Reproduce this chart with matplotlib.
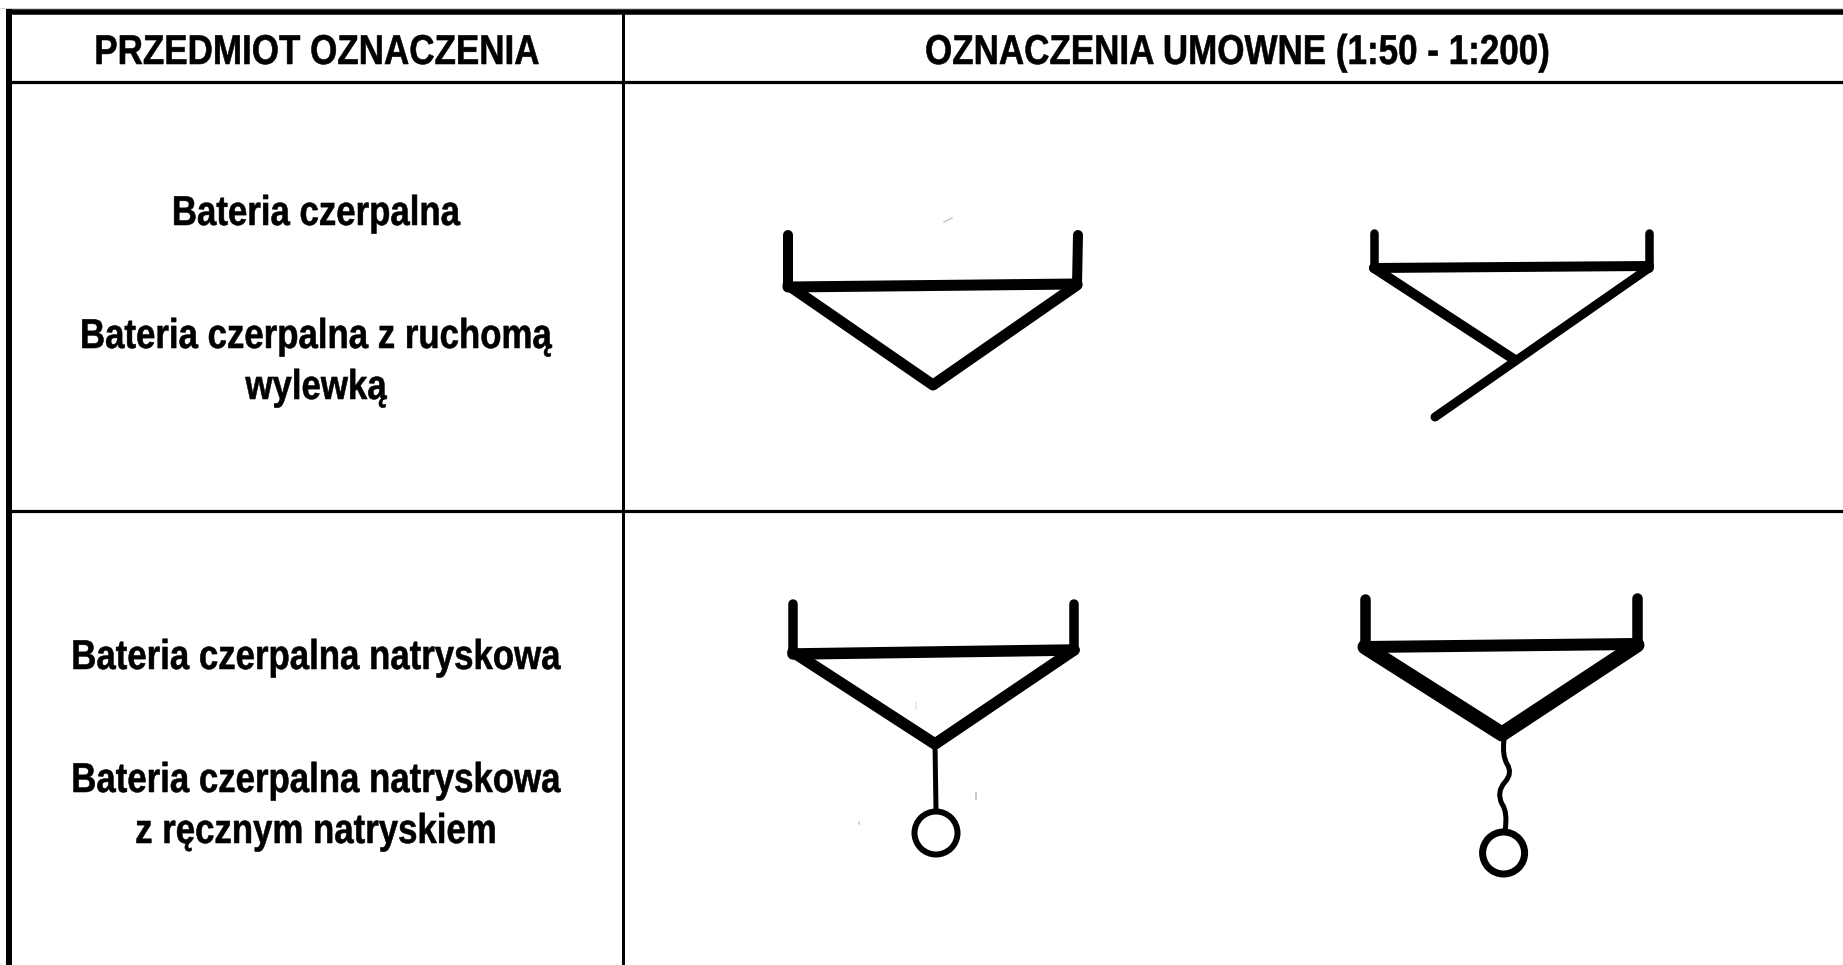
import matplotlib
matplotlib.use('Agg')
import matplotlib.pyplot as plt
from matplotlib.path import Path
from matplotlib.patches import Circle, PathPatch
from matplotlib.patheffects import AbstractPathEffect
from matplotlib.transforms import Affine2D

# text of the table
header_texts = ['PRZEDMIOT OZNACZENIA', 'OZNACZENIA UMOWNE (1:50 - 1:200)']
header_x = [316.5, 1237]
header_base = 64
row_lines = ['Bateria czerpalna', 'Bateria czerpalna z ruchomą', 'wylewką',
             'Bateria czerpalna natryskowa', 'Bateria czerpalna natryskowa', 'z ręcznym natryskiem']
row_base = [225, 348, 399, 669, 792, 843]
row_x = 316

# symbol 1: tank with tap
s1_outer_x = [788, 788, 933, 1077, 1078]
s1_outer_y = [235, 285, 385, 285, 235]
s1_bar_x = [788, 1077]
s1_bar_y = [287, 284]

# symbol 2: tap with movable spout
s2_left_x = [1374, 1374, 1515]
s2_left_y = [233, 268, 360]
s2_right_x = [1649, 1649, 1435]
s2_right_y = [233, 268, 417]
s2_bar_x = [1374, 1649]
s2_bar_y = [268, 266]

# symbol 3: shower tap
s3_outer_x = [793, 793, 935, 1074, 1074]
s3_outer_y = [604, 652, 744, 650, 604]
s3_bar_x = [793, 1074]
s3_bar_y = [654, 650]
s3_stem_x = [935, 936]
s3_stem_y = [744, 810]
s3_ring = (936, 833, 21.5)

# symbol 4: shower tap with hand shower
s4_outer_x = [1365, 1365, 1502, 1637, 1637]
s4_outer_y = [599, 647, 734, 645, 598]
s4_bar_x = [1365, 1637]
s4_bar_y = [647, 644]
# wavy hose, every second point is a curve control point
s4_hose = [(1504, 740), (1502, 755), (1507, 764), (1513, 773), (1505, 782),
           (1496, 792), (1502, 804), (1508, 812), (1505, 831)]
s4_ring = (1503.6, 853, 21)

# scanner specks left in the drawing
speck_x = [(944, 952), (916, 916), (976, 976), (859, 859)]
speck_y = [(222, 218), (702, 709), (793, 799), (822, 824)]
speck_col = ['#c8c8c8', '#e4e4e4', '#b8b8b8', '#c8c8c8']


class Squeeze(AbstractPathEffect):
    # the lettering is condensed sideways, no narrow font installed
    def __init__(self, cx, sx=0.835, fat=0.4):
        self.cx = cx
        self.sx = sx
        self.fat = fat

    def draw_path(self, renderer, gc, tpath, affine, rgbFace=None):
        t = affine + Affine2D().translate(-self.cx, 0).scale(self.sx, 1).translate(self.cx, 0)
        gc0 = renderer.new_gc()
        gc0.copy_properties(gc)
        gc0.set_linewidth(self.fat)
        renderer.draw_path(gc0, tpath, t, rgbFace)
        gc0.restore()


def px(w):
    return w * 72 / 100


def stroke(ax, x, y, w):
    ax.plot(x, y, color='black', lw=px(w), solid_capstyle='round', solid_joinstyle='round')


def symbol(ax, outer_x, outer_y, bar_x, bar_y, vert_w, diag_w, bar_w):
    stroke(ax, outer_x[:2], outer_y[:2], vert_w)
    stroke(ax, outer_x[3:], outer_y[3:], vert_w)
    stroke(ax, outer_x[1:4], outer_y[1:4], diag_w)
    stroke(ax, bar_x, bar_y, bar_w)


fig = plt.figure(figsize=(18.43, 9.65), dpi=100)
ax = fig.add_axes([0, 0, 1, 1])
ax.set_xlim(0, 1843)
ax.set_ylim(965, 0)
ax.axis('off')

# table rules
ax.plot([0, 1843], [8.2, 8.2], color='#d0d0d0', lw=px(1), solid_capstyle='butt')
ax.plot([6, 1843], [11.7, 11.7], color='black', lw=px(5.5), solid_capstyle='butt')
ax.plot([9.3, 9.3], [9, 965], color='black', lw=px(6), solid_capstyle='butt')
ax.plot([622.5, 622.5], [12, 965], color='black', lw=px(3), solid_capstyle='butt')
ax.plot([9, 1843], [82, 82], color='black', lw=px(3.2), solid_capstyle='butt')
ax.plot([9, 1843], [510.5, 510.5], color='black', lw=px(3.2), solid_capstyle='butt')

# text
for s, x in zip(header_texts, header_x):
    ax.text(x, header_base, s, ha='center', va='baseline', family='Liberation Sans',
            weight='bold', fontsize=30, path_effects=[Squeeze(x, 0.84)])
for s, y in zip(row_lines, row_base):
    ax.text(row_x, y, s, ha='center', va='baseline', family='Liberation Sans',
            weight='bold', fontsize=30, path_effects=[Squeeze(row_x)])

# symbols
symbol(ax, s1_outer_x, s1_outer_y, s1_bar_x, s1_bar_y, 10, 11, 11)

stroke(ax, s2_left_x[:2], s2_left_y[:2], 8.5)
stroke(ax, s2_right_x[:2], s2_right_y[:2], 8.5)
stroke(ax, s2_left_x[1:], s2_left_y[1:], 10)
stroke(ax, s2_right_x[1:], s2_right_y[1:], 9)
stroke(ax, s2_bar_x, s2_bar_y, 10)

symbol(ax, s3_outer_x, s3_outer_y, s3_bar_x, s3_bar_y, 9.5, 11.5, 11.5)
stroke(ax, s3_stem_x, s3_stem_y, 5)
ax.add_patch(Circle(s3_ring[:2], s3_ring[2], fill=False, ec='black', lw=px(6)))

symbol(ax, s4_outer_x, s4_outer_y, s4_bar_x, s4_bar_y, 10.5, 15, 12)
hose_codes = [Path.MOVETO] + [Path.CURVE3] * (len(s4_hose) - 1)
ax.add_patch(PathPatch(Path(s4_hose, hose_codes), fill=False, ec='black', lw=px(5), capstyle='round'))
ax.add_patch(Circle(s4_ring[:2], s4_ring[2], fill=False, ec='black', lw=px(7)))

for x, y, c in zip(speck_x, speck_y, speck_col):
    ax.plot(x, y, color=c, lw=px(1.5))

plt.savefig('out.png', dpi=100)
